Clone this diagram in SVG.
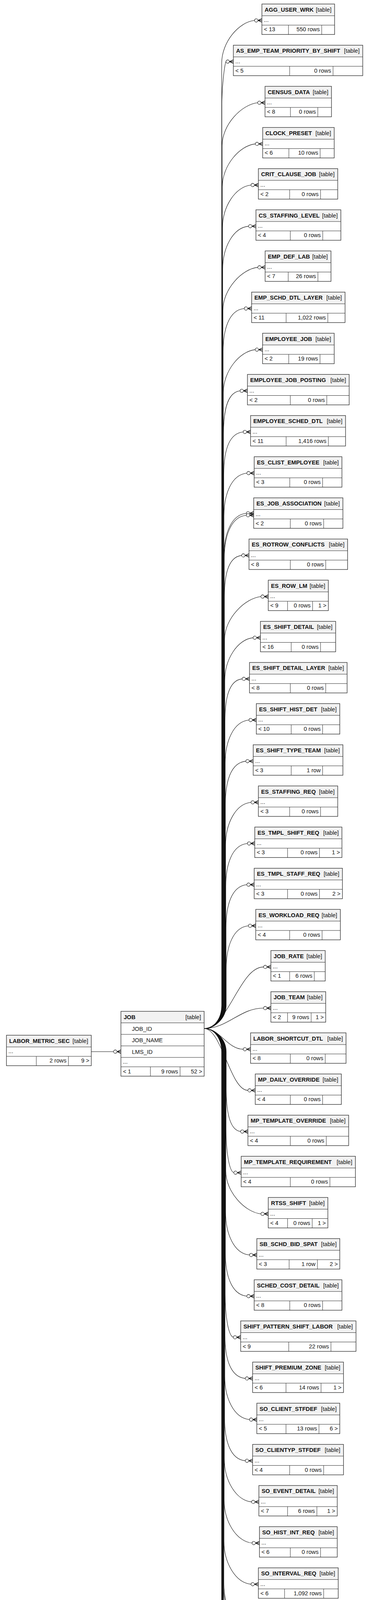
<svg xmlns="http://www.w3.org/2000/svg" width="944" height="6035" viewBox="0 0 944 6035">
<style>
.h{fill:#f2f2f2}
.o{fill:none;stroke:#2a2a2a;stroke-width:1.3}
.ob{fill:none;stroke:#1a1a1a;stroke-width:2.6}
.g{fill:none;stroke:#2a2a2a;stroke-width:1}
.n{font-family:'Liberation Sans',Arial,Helvetica,sans-serif;font-size:14.67px;font-weight:bold;fill:#111}
.t{font-family:'Liberation Sans',Arial,Helvetica,sans-serif;font-size:14.67px;fill:#111}
.e{text-anchor:end}
.edge{fill:none;stroke:#111;stroke-width:1.1}
.dot{fill:#fff;stroke:#111;stroke-width:1.1}
</style>
<defs>
<g id="cf"><path class="edge" d="M-10 0L0-4.5M-10 0H0M-10 0L0 4.5" style="stroke-width:1.5"/><circle class="dot" cx="-14.5" cy="0" r="4.3"/></g>
</defs>
<rect width="944" height="6035" fill="#fff"/>
<g id="connectors">
<path class="edge" d="M522.3 2633C548 2633 567.1 2608 567.1 2573V162.3C567.1 107.3 611.2 56.3 651.2 52.3"/>
<path class="edge" d="M522.3 2633C548 2633 567.6 2608 567.6 2573V267.7C567.6 212.7 575.6 161.7 578.2 157.7"/>
<path class="edge" d="M522.3 2633C548 2633 568.2 2608 568.2 2573V373C568.2 318 619.2 267 659.2 263"/>
<path class="edge" d="M522.3 2633C548 2633 568.7 2608 568.7 2573V478.4C568.7 423.4 613.2 372.4 653.2 368.4"/>
<path class="edge" d="M522.3 2633C548 2633 569.2 2608 569.2 2573V583.7C569.2 528.7 602.2 477.7 642.2 473.7"/>
<path class="edge" d="M522.3 2633C548 2633 569.7 2608 569.7 2573V689.1C569.7 634.1 595.9 583.1 635.9 579.1"/>
<path class="edge" d="M522.3 2633C548 2633 570.3 2608 570.3 2573V794.4C570.3 739.4 619.5 688.4 659.5 684.4"/>
<path class="edge" d="M522.3 2633C548 2633 570.8 2608 570.8 2573V899.8C570.8 844.8 584.9 793.8 624.9 789.8"/>
<path class="edge" d="M522.3 2633C548 2633 571.3 2608 571.3 2573V1005.1C571.3 950.1 612.9 899.1 652.9 895.1"/>
<path class="edge" d="M522.3 2633C548 2633 571.8 2608 571.8 2573V1110.5C571.8 1055.5 579.8 1004.5 614.2 1000.5"/>
<path class="edge" d="M522.3 2633C548 2633 572.4 2608 572.4 2573V1215.8C572.4 1160.8 582.2 1109.8 622.2 1105.8"/>
<path class="edge" d="M522.3 2633C548 2633 572.9 2608 572.9 2573V1321.2C572.9 1266.2 591.5 1215.2 631.5 1211.2"/>
<path class="edge" d="M522.3 2633C548 2633 573 2608 573 2573V1424C573 1369 590.2 1318 630.2 1314"/>
<path class="edge" d="M522.3 2633C548 2633 573.8 2608 573.8 2573V1429C573.8 1374 590.2 1323 630.2 1319"/>
<path class="edge" d="M522.3 2633C548 2633 573.9 2608 573.9 2573V1531.9C573.9 1476.9 581.9 1425.9 618.2 1421.9"/>
<path class="edge" d="M522.3 2633C548 2633 574.5 2608 574.5 2573V1637.2C574.5 1582.2 627.5 1531.2 667.5 1527.2"/>
<path class="edge" d="M522.3 2633C548 2633 575 2608 575 2573V1742.6C575 1687.6 607.5 1636.6 647.5 1632.6"/>
<path class="edge" d="M522.3 2633C548 2633 575.5 2608 575.5 2573V1847.9C575.5 1792.9 583.5 1741.9 619.5 1737.9"/>
<path class="edge" d="M522.3 2633C548 2633 576.1 2608 576.1 2573V1953.3C576.1 1898.3 596.9 1847.3 636.9 1843.3"/>
<path class="edge" d="M522.3 2633C548 2633 576.6 2608 576.6 2573V2058.6C576.6 2003.6 588.9 1952.6 628.9 1948.6"/>
<path class="edge" d="M522.3 2633C548 2633 577.1 2608 577.1 2573V2164C577.1 2109 602.2 2058 642.2 2054"/>
<path class="edge" d="M522.3 2633C548 2633 577.6 2608 577.6 2573V2269.3C577.6 2214.3 592.9 2163.3 632.9 2159.3"/>
<path class="edge" d="M522.3 2633C548 2633 578.2 2608 578.2 2573V2374.7C578.2 2319.7 591.5 2268.7 631.5 2264.7"/>
<path class="edge" d="M522.3 2633C548 2633 578.7 2608 578.7 2573V2480C578.7 2425 595.5 2374 635.5 2370"/>
<path class="edge" d="M522.3 2633C583.1 2633 613.4 2475.4 674.2 2475.4"/>
<path class="edge" d="M522.3 2633C583.1 2633 613.4 2580.7 674.2 2580.7"/>
<path class="edge" d="M522.3 2633C562.3 2633 582.2 2686.1 622.2 2686.1"/>
<path class="edge" d="M522.3 2633C567.1 2633 589.4 2791.4 634.2 2791.4"/>
<path class="edge" d="M522.3 2633C548 2633 578.7 2658 578.7 2693V2786.8C578.7 2841.8 586.7 2892.8 615.5 2896.8"/>
<path class="edge" d="M522.3 2633C548 2633 578.2 2658 578.2 2693V2892.1C578.2 2947.1 586.2 2998.1 598.2 3002.1"/>
<path class="edge" d="M522.3 2633C548 2633 577.6 2658 577.6 2693V2997.5C577.6 3052.5 627.5 3103.5 667.5 3107.5"/>
<path class="edge" d="M522.3 2633C548 2633 577.1 2658 577.1 2693V3102.8C577.1 3157.8 598.2 3208.8 638.2 3212.8"/>
<path class="edge" d="M522.3 2633C548 2633 576.6 2658 576.6 2693V3208.2C576.6 3263.2 591.5 3314.2 631.5 3318.2"/>
<path class="edge" d="M522.3 2633C548 2633 576 2658 576 2693V3313.5C576 3368.5 584 3419.5 596.9 3423.5"/>
<path class="edge" d="M522.3 2633C548 2633 575.5 2658 575.5 2693V3418.9C575.5 3473.9 587.5 3524.9 627.5 3528.9"/>
<path class="edge" d="M522.3 2633C548 2633 575 2658 575 2693V3524.2C575 3579.2 598.2 3630.2 638.2 3634.2"/>
<path class="edge" d="M522.3 2633C548 2633 574.5 2658 574.5 2693V3629.6C574.5 3684.6 587.5 3735.6 627.5 3739.6"/>
<path class="edge" d="M522.3 2633C548 2633 573.9 2658 573.9 2693V3734.9C573.9 3789.9 603.5 3840.9 643.5 3844.9"/>
<path class="edge" d="M522.3 2633C548 2633 573.4 2658 573.4 2693V3840.3C573.4 3895.3 604.9 3946.3 644.9 3950.3"/>
<path class="edge" d="M522.3 2633C548 2633 572.9 2658 572.9 2693V3945.6C572.9 4000.6 602.2 4051.6 642.2 4055.6"/>
<path class="edge" d="M522.3 2633C548 2633 572.6 2658 572.6 2693V4048.5C572.6 4103.5 588.9 4154.5 628.9 4158.5"/>
<path class="edge" d="M522.3 2633C548 2633 571.2 2658 571.2 2693V4053.5C571.2 4108.5 588.9 4159.5 628.9 4163.5"/>
<path class="edge" d="M522.3 2633C548 2633 571.8 2658 571.8 2693V4156.3C571.8 4211.3 606.2 4262.3 646.2 4266.3"/>
<path class="edge" d="M522.3 2633C548 2633 571.3 2658 571.3 2693V4261.7C571.3 4316.7 616.9 4367.7 656.9 4371.7"/>
<path class="edge" d="M522.3 2633C548 2633 570.8 2658 570.8 2693V4367C570.8 4422 603.5 4473 643.5 4477"/>
<path class="edge" d="M522.3 2633C548 2633 570.3 2658 570.3 2693V4472.4C570.3 4527.4 620.9 4578.4 660.9 4582.4"/>
<path class="edge" d="M522.3 2633C548 2633 569.7 2658 569.7 2693V4577.7C569.7 4632.7 619.5 4683.7 659.5 4687.7"/>
<path class="edge" d="M522.3 2633C548 2633 569.2 2658 569.2 2693V4683.1C569.2 4738.1 592.9 4789.1 632.9 4793.1"/>
<path class="edge" d="M522.3 2633C548 2633 568.7 2658 568.7 2693V4788.4C568.7 4843.4 591.5 4894.4 631.5 4898.4"/>
<path class="edge" d="M522.3 2633C548 2633 568.1 2658 568.1 2693V4893.8C568.1 4948.8 616.9 4999.8 656.9 5003.8"/>
<path class="edge" d="M522.3 2633C548 2633 567.6 2658 567.6 2693V4999.1C567.6 5054.1 619.5 5105.1 659.5 5109.1"/>
<path class="edge" d="M522.3 2633C548 2633 566.9 2658 566.9 2693V5137.6C566.9 5192.6 582.9 5243.6 622.9 5247.6"/>
<path class="edge" d="M532.7 5627.5C556 5627.5 576 5602.5 576 5567.5V5387.1C576 5332.1 584 5281.1 622.9 5277.1"/>
<path class="edge" d="M532.7 5627.5C556 5627.5 580 5602.5 580 5567.5V5527.8C580 5472.8 588 5421.8 620.9 5417.8"/>
<path class="edge" d="M532.7 5627.5C576 5627.5 597.6 5523 640.9 5523"/>
<path class="edge" d="M532.7 5627.5L604.9 5628"/>
<path class="edge" d="M532.7 5627.5C574.4 5627.5 595.2 5733.6 636.9 5733.6"/>
<path class="edge" d="M532.7 5627.5C556 5627.5 581 5652.5 581 5687.5V5729C581 5784 643.5 5835 683.5 5839"/>
<path class="edge" d="M532.7 5627.5C556 5627.5 577 5652.5 577 5687.5V5835C577 5890 588.9 5941 628.9 5945"/>
<path class="edge" d="M233.5 2692.2H290.6"/>
<path class="edge" d="M220.4 5686.5H280.4"/>
<use href="#cf" x="670" y="52.3"/><use href="#cf" x="597" y="157.7"/><use href="#cf" x="678" y="263"/><use href="#cf" x="672" y="368.4"/>
<use href="#cf" x="661" y="473.7"/><use href="#cf" x="654.7" y="579.1"/><use href="#cf" x="678.3" y="684.4"/><use href="#cf" x="643.7" y="789.8"/>
<use href="#cf" x="671.7" y="895.1"/><use href="#cf" x="633" y="1000.5"/><use href="#cf" x="641" y="1105.8"/><use href="#cf" x="650.3" y="1211.2"/>
<use href="#cf" x="649" y="1314"/><use href="#cf" x="649" y="1319"/><use href="#cf" x="637" y="1421.9"/><use href="#cf" x="686.3" y="1527.2"/>
<use href="#cf" x="666.3" y="1632.6"/><use href="#cf" x="638.3" y="1737.9"/><use href="#cf" x="655.7" y="1843.3"/><use href="#cf" x="647.7" y="1948.6"/>
<use href="#cf" x="661" y="2054"/><use href="#cf" x="651.7" y="2159.3"/><use href="#cf" x="650.3" y="2264.7"/><use href="#cf" x="654.3" y="2370"/>
<use href="#cf" x="693" y="2475.4"/><use href="#cf" x="693" y="2580.7"/><use href="#cf" x="641" y="2686.1"/><use href="#cf" x="653" y="2791.4"/>
<use href="#cf" x="634.3" y="2896.8"/><use href="#cf" x="617" y="3002.1"/><use href="#cf" x="686.3" y="3107.5"/><use href="#cf" x="657" y="3212.8"/>
<use href="#cf" x="650.3" y="3318.2"/><use href="#cf" x="615.7" y="3423.5"/><use href="#cf" x="646.3" y="3528.9"/><use href="#cf" x="657" y="3634.2"/>
<use href="#cf" x="646.3" y="3739.6"/><use href="#cf" x="662.3" y="3844.9"/><use href="#cf" x="663.7" y="3950.3"/><use href="#cf" x="661" y="4055.6"/>
<use href="#cf" x="647.7" y="4158.5"/><use href="#cf" x="647.7" y="4163.5"/><use href="#cf" x="665" y="4266.3"/><use href="#cf" x="675.7" y="4371.7"/>
<use href="#cf" x="662.3" y="4477"/><use href="#cf" x="679.7" y="4582.4"/><use href="#cf" x="678.3" y="4687.7"/><use href="#cf" x="651.7" y="4793.1"/>
<use href="#cf" x="650.3" y="4898.4"/><use href="#cf" x="675.7" y="5003.8"/><use href="#cf" x="678.3" y="5109.1"/><use href="#cf" x="641.7" y="5247.6"/>
<use href="#cf" x="641.7" y="5277.1"/><use href="#cf" x="639.7" y="5417.8"/><use href="#cf" x="659.7" y="5523"/><use href="#cf" x="623.7" y="5628"/>
<use href="#cf" x="655.7" y="5733.6"/><use href="#cf" x="702.3" y="5839"/><use href="#cf" x="647.7" y="5945"/><use href="#cf" x="309.4" y="2692.2"/>
<use href="#cf" x="299.2" y="5686.5"/>
</g>
<g id="LABOR_METRIC_SEC" transform="translate(16.5,2650.2)"><rect class="h" width="217" height="30"/><path class="g" d="M0 30H217M0 54H217M76.4 54V78M158.5 54V78"/><rect class="o" width="217" height="78"/><text class="n" x="7" y="19.5">LABOR_METRIC_SEC</text><text class="t e" x="209" y="19.5">[table]</text><text class="t" x="5" y="46">...</text><text class="t e" x="153.5" y="70">2 rows</text><text class="t e" x="212" y="70">9 &gt;</text></g>
<g id="JOB" transform="translate(309.4,2589)"><rect class="h" width="212.9" height="29.5"/><path class="g" d="M0 29.5H212.9M0 59H212.9M0 88.5H212.9M0 118H212.9M0 142H212.9M75.4 142V166M151.3 142V166"/><rect class="o" width="212.9" height="166"/><text class="n" x="7" y="19.5">JOB</text><text class="t e" x="204.9" y="19.5">[table]</text><text class="t" x="28" y="49.5">JOB_ID</text><text class="t" x="28" y="79">JOB_NAME</text><text class="t" x="28" y="108.5">LMS_ID</text><text class="t" x="5" y="134">...</text><text class="t" x="5" y="158.5">&lt; 1</text><text class="t e" x="146.3" y="158.5">9 rows</text><text class="t e" x="207.9" y="158.5">52 &gt;</text></g>
<g id="READER_SERVER" transform="translate(29.8,5644.5)"><rect class="h" width="190.6" height="30"/><path class="g" d="M0 30H190.6M0 54H190.6M68.2 54V78M141.2 54V78"/><rect class="o" width="190.6" height="78"/><text class="n" x="7" y="19.5">READER_SERVER</text><text class="t e" x="182.6" y="19.5">[table]</text><text class="t" x="5" y="46">...</text><text class="t" x="5" y="70">&lt; 1</text><text class="t e" x="136.2" y="70">3 rows</text><text class="t e" x="185.6" y="70">1 &gt;</text></g>
<g id="READER_GROUP" transform="translate(299.2,5583.2)"><rect class="h" width="233.5" height="29.5"/><path class="g" d="M0 29.5H233.5M0 59H233.5M0 88.5H233.5M0 118H233.5M0 142H233.5M89.4 142V166M173.5 142V166"/><rect class="o" width="233.5" height="166"/><text class="n" x="7" y="19.5">READER_GROUP</text><text class="t e" x="225.5" y="19.5">[table]</text><text class="t" x="28" y="49.5">RDRGRP_ID</text><text class="t" x="28" y="79">RDRGRP_NAME</text><text class="t" x="28" y="108.5">RDRSVR_ID</text><text class="t" x="5" y="134">...</text><text class="t" x="5" y="158.5">&lt; 1</text><text class="t e" x="168.5" y="158.5">3 rows</text><text class="t e" x="228.5" y="158.5">7 &gt;</text></g>
<g id="AGG_USER_WRK" transform="translate(670,10.3)"><rect class="h" width="186" height="30"/><path class="g" d="M0 30H186M0 54H186M68 54V78M153 54V78"/><rect class="o" width="186" height="78"/><text class="n" x="7" y="19.5">AGG_USER_WRK</text><text class="t e" x="178" y="19.5">[table]</text><text class="t" x="5" y="46">...</text><text class="t" x="5" y="70">&lt; 13</text><text class="t e" x="148" y="70">550 rows</text></g>
<g id="AS_EMP_TEAM_PRIORITY_BY_SHIFT" transform="translate(597,115.7)"><rect class="h" width="331" height="30"/><path class="g" d="M0 30H331M0 54H331M144 54V78M255 54V78"/><rect class="o" width="331" height="78"/><text class="n" x="7" y="19.5">AS_EMP_TEAM_PRIORITY_BY_SHIFT</text><text class="t e" x="323" y="19.5">[table]</text><text class="t" x="5" y="46">...</text><text class="t" x="5" y="70">&lt; 5</text><text class="t e" x="250" y="70">0 rows</text></g>
<g id="CENSUS_DATA" transform="translate(678,221)"><rect class="h" width="170" height="30"/><path class="g" d="M0 30H170M0 54H170M65 54V78M135 54V78"/><rect class="o" width="170" height="78"/><text class="n" x="7" y="19.5">CENSUS_DATA</text><text class="t e" x="162" y="19.5">[table]</text><text class="t" x="5" y="46">...</text><text class="t" x="5" y="70">&lt; 8</text><text class="t e" x="130" y="70">0 rows</text></g>
<g id="CLOCK_PRESET" transform="translate(672,326.4)"><rect class="h" width="183" height="30"/><path class="g" d="M0 30H183M0 54H183M67 54V78M147 54V78"/><rect class="o" width="183" height="78"/><text class="n" x="7" y="19.5">CLOCK_PRESET</text><text class="t e" x="175" y="19.5">[table]</text><text class="t" x="5" y="46">...</text><text class="t" x="5" y="70">&lt; 6</text><text class="t e" x="142" y="70">10 rows</text></g>
<g id="CRIT_CLAUSE_JOB" transform="translate(661,431.7)"><rect class="h" width="203" height="30"/><path class="g" d="M0 30H203M0 54H203M80 54V78M159 54V78"/><rect class="o" width="203" height="78"/><text class="n" x="7" y="19.5">CRIT_CLAUSE_JOB</text><text class="t e" x="195" y="19.5">[table]</text><text class="t" x="5" y="46">...</text><text class="t" x="5" y="70">&lt; 2</text><text class="t e" x="154" y="70">0 rows</text></g>
<g id="CS_STAFFING_LEVEL" transform="translate(654.7,537.1)"><rect class="h" width="217.3" height="30"/><path class="g" d="M0 30H217.3M0 54H217.3M88 54V78M171 54V78"/><rect class="o" width="217.3" height="78"/><text class="n" x="7" y="19.5">CS_STAFFING_LEVEL</text><text class="t e" x="209.3" y="19.5">[table]</text><text class="t" x="5" y="46">...</text><text class="t" x="5" y="70">&lt; 4</text><text class="t e" x="166" y="70">0 rows</text></g>
<g id="EMP_DEF_LAB" transform="translate(678.3,642.4)"><rect class="h" width="168.4" height="30"/><path class="g" d="M0 30H168.4M0 54H168.4M59 54V78M135 54V78"/><rect class="o" width="168.4" height="78"/><text class="n" x="7" y="19.5">EMP_DEF_LAB</text><text class="t e" x="160.4" y="19.5">[table]</text><text class="t" x="5" y="46">...</text><text class="t" x="5" y="70">&lt; 7</text><text class="t e" x="130" y="70">26 rows</text></g>
<g id="EMP_SCHD_DTL_LAYER" transform="translate(643.7,747.8)"><rect class="h" width="239" height="30"/><path class="g" d="M0 30H239M0 54H239M88.3 54V78M195 54V78"/><rect class="o" width="239" height="78"/><text class="n" x="7" y="19.5">EMP_SCHD_DTL_LAYER</text><text class="t e" x="231" y="19.5">[table]</text><text class="t" x="5" y="46">...</text><text class="t" x="5" y="70">&lt; 11</text><text class="t e" x="190" y="70">1,022 rows</text></g>
<g id="EMPLOYEE_JOB" transform="translate(671.7,853.1)"><rect class="h" width="183.3" height="30"/><path class="g" d="M0 30H183.3M0 54H183.3M67 54V78M147 54V78"/><rect class="o" width="183.3" height="78"/><text class="n" x="7" y="19.5">EMPLOYEE_JOB</text><text class="t e" x="175.3" y="19.5">[table]</text><text class="t" x="5" y="46">...</text><text class="t" x="5" y="70">&lt; 2</text><text class="t e" x="142" y="70">19 rows</text></g>
<g id="EMPLOYEE_JOB_POSTING" transform="translate(633,958.5)"><rect class="h" width="260.3" height="30"/><path class="g" d="M0 30H260.3M0 54H260.3M109.7 54V78M203 54V78"/><rect class="o" width="260.3" height="78"/><text class="n" x="7" y="19.5">EMPLOYEE_JOB_POSTING</text><text class="t e" x="252.3" y="19.5">[table]</text><text class="t" x="5" y="46">...</text><text class="t" x="5" y="70">&lt; 2</text><text class="t e" x="198" y="70">0 rows</text></g>
<g id="EMPLOYEE_SCHED_DTL" transform="translate(641,1063.8)"><rect class="h" width="243" height="30"/><path class="g" d="M0 30H243M0 54H243M91 54V78M199 54V78"/><rect class="o" width="243" height="78"/><text class="n" x="7" y="19.5">EMPLOYEE_SCHED_DTL</text><text class="t e" x="235" y="19.5">[table]</text><text class="t" x="5" y="46">...</text><text class="t" x="5" y="70">&lt; 11</text><text class="t e" x="194" y="70">1,416 rows</text></g>
<g id="ES_CLIST_EMPLOYEE" transform="translate(650.3,1169.2)"><rect class="h" width="224.4" height="30"/><path class="g" d="M0 30H224.4M0 54H224.4M91 54V78M175 54V78"/><rect class="o" width="224.4" height="78"/><text class="n" x="7" y="19.5">ES_CLIST_EMPLOYEE</text><text class="t e" x="216.4" y="19.5">[table]</text><text class="t" x="5" y="46">...</text><text class="t" x="5" y="70">&lt; 3</text><text class="t e" x="170" y="70">0 rows</text></g>
<g id="ES_JOB_ASSOCIATION" transform="translate(649,1274.5)"><rect class="h" width="228.3" height="30"/><path class="g" d="M0 30H228.3M0 54H228.3M93.7 54V78M179 54V78"/><rect class="o" width="228.3" height="78"/><text class="n" x="7" y="19.5">ES_JOB_ASSOCIATION</text><text class="t e" x="220.3" y="19.5">[table]</text><text class="t" x="5" y="46">...</text><text class="t" x="5" y="70">&lt; 2</text><text class="t e" x="174" y="70">0 rows</text></g>
<g id="ES_ROTROW_CONFLICTS" transform="translate(637,1379.9)"><rect class="h" width="252.3" height="30"/><path class="g" d="M0 30H252.3M0 54H252.3M105.7 54V78M196.3 54V78"/><rect class="o" width="252.3" height="78"/><text class="n" x="7" y="19.5">ES_ROTROW_CONFLICTS</text><text class="t e" x="244.3" y="19.5">[table]</text><text class="t" x="5" y="46">...</text><text class="t" x="5" y="70">&lt; 8</text><text class="t e" x="191.3" y="70">0 rows</text></g>
<g id="ES_ROW_LM" transform="translate(686.3,1485.2)"><rect class="h" width="153.7" height="30"/><path class="g" d="M0 30H153.7M0 54H153.7M49.4 54V78M113.4 54V78"/><rect class="o" width="153.7" height="78"/><text class="n" x="7" y="19.5">ES_ROW_LM</text><text class="t e" x="145.7" y="19.5">[table]</text><text class="t" x="5" y="46">...</text><text class="t" x="5" y="70">&lt; 9</text><text class="t e" x="108.4" y="70">0 rows</text><text class="t e" x="148.7" y="70">1 &gt;</text></g>
<g id="ES_SHIFT_DETAIL" transform="translate(666.3,1590.6)"><rect class="h" width="192.4" height="30"/><path class="g" d="M0 30H192.4M0 54H192.4M78.7 54V78M153.7 54V78"/><rect class="o" width="192.4" height="78"/><text class="n" x="7" y="19.5">ES_SHIFT_DETAIL</text><text class="t e" x="184.4" y="19.5">[table]</text><text class="t" x="5" y="46">...</text><text class="t" x="5" y="70">&lt; 16</text><text class="t e" x="148.7" y="70">0 rows</text></g>
<g id="ES_SHIFT_DETAIL_LAYER" transform="translate(638.3,1695.9)"><rect class="h" width="249.7" height="30"/><path class="g" d="M0 30H249.7M0 54H249.7M104.4 54V78M195 54V78"/><rect class="o" width="249.7" height="78"/><text class="n" x="7" y="19.5">ES_SHIFT_DETAIL_LAYER</text><text class="t e" x="241.7" y="19.5">[table]</text><text class="t" x="5" y="46">...</text><text class="t" x="5" y="70">&lt; 8</text><text class="t e" x="190" y="70">0 rows</text></g>
<g id="ES_SHIFT_HIST_DET" transform="translate(655.7,1801.3)"><rect class="h" width="213.6" height="30"/><path class="g" d="M0 30H213.6M0 54H213.6M89.3 54V78M169.6 54V78"/><rect class="o" width="213.6" height="78"/><text class="n" x="7" y="19.5">ES_SHIFT_HIST_DET</text><text class="t e" x="205.6" y="19.5">[table]</text><text class="t" x="5" y="46">...</text><text class="t" x="5" y="70">&lt; 10</text><text class="t e" x="164.6" y="70">0 rows</text></g>
<g id="ES_SHIFT_TYPE_TEAM" transform="translate(647.7,1906.6)"><rect class="h" width="229.6" height="30"/><path class="g" d="M0 30H229.6M0 54H229.6M97.3 54V78M177.6 54V78"/><rect class="o" width="229.6" height="78"/><text class="n" x="7" y="19.5">ES_SHIFT_TYPE_TEAM</text><text class="t e" x="221.6" y="19.5">[table]</text><text class="t" x="5" y="46">...</text><text class="t" x="5" y="70">&lt; 3</text><text class="t e" x="172.6" y="70">1 row</text></g>
<g id="ES_STAFFING_REQ" transform="translate(661,2012)"><rect class="h" width="203" height="30"/><path class="g" d="M0 30H203M0 54H203M80 54V78M159 54V78"/><rect class="o" width="203" height="78"/><text class="n" x="7" y="19.5">ES_STAFFING_REQ</text><text class="t e" x="195" y="19.5">[table]</text><text class="t" x="5" y="46">...</text><text class="t" x="5" y="70">&lt; 3</text><text class="t e" x="154" y="70">0 rows</text></g>
<g id="ES_TMPL_SHIFT_REQ" transform="translate(651.7,2117.3)"><rect class="h" width="223" height="30"/><path class="g" d="M0 30H223M0 54H223M84 54V78M165.6 54V78"/><rect class="o" width="223" height="78"/><text class="n" x="7" y="19.5">ES_TMPL_SHIFT_REQ</text><text class="t e" x="215" y="19.5">[table]</text><text class="t" x="5" y="46">...</text><text class="t" x="5" y="70">&lt; 3</text><text class="t e" x="160.6" y="70">0 rows</text><text class="t e" x="218" y="70">1 &gt;</text></g>
<g id="ES_TMPL_STAFF_REQ" transform="translate(650.3,2222.7)"><rect class="h" width="225.7" height="30"/><path class="g" d="M0 30H225.7M0 54H225.7M85.4 54V78M167 54V78"/><rect class="o" width="225.7" height="78"/><text class="n" x="7" y="19.5">ES_TMPL_STAFF_REQ</text><text class="t e" x="217.7" y="19.5">[table]</text><text class="t" x="5" y="46">...</text><text class="t" x="5" y="70">&lt; 3</text><text class="t e" x="162" y="70">0 rows</text><text class="t e" x="220.7" y="70">2 &gt;</text></g>
<g id="ES_WORKLOAD_REQ" transform="translate(654.3,2328)"><rect class="h" width="216.4" height="30"/><path class="g" d="M0 30H216.4M0 54H216.4M86.7 54V78M169.7 54V78"/><rect class="o" width="216.4" height="78"/><text class="n" x="7" y="19.5">ES_WORKLOAD_REQ</text><text class="t e" x="208.4" y="19.5">[table]</text><text class="t" x="5" y="46">...</text><text class="t" x="5" y="70">&lt; 4</text><text class="t e" x="164.7" y="70">0 rows</text></g>
<g id="JOB_RATE" transform="translate(693,2433.4)"><rect class="h" width="139" height="30"/><path class="g" d="M0 30H139M0 54H139M48 54V78M111 54V78"/><rect class="o" width="139" height="78"/><text class="n" x="7" y="19.5">JOB_RATE</text><text class="t e" x="131" y="19.5">[table]</text><text class="t" x="5" y="46">...</text><text class="t" x="5" y="70">&lt; 1</text><text class="t e" x="106" y="70">6 rows</text></g>
<g id="JOB_TEAM" transform="translate(693,2538.7)"><rect class="h" width="140.3" height="30"/><path class="g" d="M0 30H140.3M0 54H140.3M42.7 54V78M103 54V78"/><rect class="o" width="140.3" height="78"/><text class="n" x="7" y="19.5">JOB_TEAM</text><text class="t e" x="132.3" y="19.5">[table]</text><text class="t" x="5" y="46">...</text><text class="t" x="5" y="70">&lt; 2</text><text class="t e" x="98" y="70">9 rows</text><text class="t e" x="135.3" y="70">1 &gt;</text></g>
<g id="LABOR_SHORTCUT_DTL" transform="translate(641,2644.1)"><rect class="h" width="244.3" height="30"/><path class="g" d="M0 30H244.3M0 54H244.3M101.7 54V78M191 54V78"/><rect class="o" width="244.3" height="78"/><text class="n" x="7" y="19.5">LABOR_SHORTCUT_DTL</text><text class="t e" x="236.3" y="19.5">[table]</text><text class="t" x="5" y="46">...</text><text class="t" x="5" y="70">&lt; 8</text><text class="t e" x="186" y="70">0 rows</text></g>
<g id="MP_DAILY_OVERRIDE" transform="translate(653,2749.4)"><rect class="h" width="220.3" height="30"/><path class="g" d="M0 30H220.3M0 54H220.3M89.7 54V78M172.3 54V78"/><rect class="o" width="220.3" height="78"/><text class="n" x="7" y="19.5">MP_DAILY_OVERRIDE</text><text class="t e" x="212.3" y="19.5">[table]</text><text class="t" x="5" y="46">...</text><text class="t" x="5" y="70">&lt; 4</text><text class="t e" x="167.3" y="70">0 rows</text></g>
<g id="MP_TEMPLATE_OVERRIDE" transform="translate(634.3,2854.8)"><rect class="h" width="257.7" height="30"/><path class="g" d="M0 30H257.7M0 54H257.7M108.4 54V78M200.4 54V78"/><rect class="o" width="257.7" height="78"/><text class="n" x="7" y="19.5">MP_TEMPLATE_OVERRIDE</text><text class="t e" x="249.7" y="19.5">[table]</text><text class="t" x="5" y="46">...</text><text class="t" x="5" y="70">&lt; 4</text><text class="t e" x="195.4" y="70">0 rows</text></g>
<g id="MP_TEMPLATE_REQUIREMENT" transform="translate(617,2960.1)"><rect class="h" width="292.3" height="30"/><path class="g" d="M0 30H292.3M0 54H292.3M125.7 54V78M227 54V78"/><rect class="o" width="292.3" height="78"/><text class="n" x="7" y="19.5">MP_TEMPLATE_REQUIREMENT</text><text class="t e" x="284.3" y="19.5">[table]</text><text class="t" x="5" y="46">...</text><text class="t" x="5" y="70">&lt; 4</text><text class="t e" x="222" y="70">0 rows</text></g>
<g id="RTSS_SHIFT" transform="translate(686.3,3065.5)"><rect class="h" width="152.4" height="30"/><path class="g" d="M0 30H152.4M0 54H152.4M49.4 54V78M112.4 54V78"/><rect class="o" width="152.4" height="78"/><text class="n" x="7" y="19.5">RTSS_SHIFT</text><text class="t e" x="144.4" y="19.5">[table]</text><text class="t" x="5" y="46">...</text><text class="t" x="5" y="70">&lt; 4</text><text class="t e" x="107.4" y="70">0 rows</text><text class="t e" x="147.4" y="70">1 &gt;</text></g>
<g id="SB_SCHD_BID_SPAT" transform="translate(657,3170.8)"><rect class="h" width="212.3" height="30"/><path class="g" d="M0 30H212.3M0 54H212.3M82.7 54V78M155 54V78"/><rect class="o" width="212.3" height="78"/><text class="n" x="7" y="19.5">SB_SCHD_BID_SPAT</text><text class="t e" x="204.3" y="19.5">[table]</text><text class="t" x="5" y="46">...</text><text class="t" x="5" y="70">&lt; 3</text><text class="t e" x="150" y="70">1 row</text><text class="t e" x="207.3" y="70">2 &gt;</text></g>
<g id="SCHED_COST_DETAIL" transform="translate(650.3,3276.2)"><rect class="h" width="224.4" height="30"/><path class="g" d="M0 30H224.4M0 54H224.4M91 54V78M175 54V78"/><rect class="o" width="224.4" height="78"/><text class="n" x="7" y="19.5">SCHED_COST_DETAIL</text><text class="t e" x="216.4" y="19.5">[table]</text><text class="t" x="5" y="46">...</text><text class="t" x="5" y="70">&lt; 8</text><text class="t e" x="170" y="70">0 rows</text></g>
<g id="SHIFT_PATTERN_SHIFT_LABOR" transform="translate(615.7,3381.5)"><rect class="h" width="295" height="30"/><path class="g" d="M0 30H295M0 54H295M123 54V78M231 54V78"/><rect class="o" width="295" height="78"/><text class="n" x="7" y="19.5">SHIFT_PATTERN_SHIFT_LABOR</text><text class="t e" x="287" y="19.5">[table]</text><text class="t" x="5" y="46">...</text><text class="t" x="5" y="70">&lt; 9</text><text class="t e" x="226" y="70">22 rows</text></g>
<g id="SHIFT_PREMIUM_ZONE" transform="translate(646.3,3486.9)"><rect class="h" width="232.4" height="30"/><path class="g" d="M0 30H232.4M0 54H232.4M85.4 54V78M175 54V78"/><rect class="o" width="232.4" height="78"/><text class="n" x="7" y="19.5">SHIFT_PREMIUM_ZONE</text><text class="t e" x="224.4" y="19.5">[table]</text><text class="t" x="5" y="46">...</text><text class="t" x="5" y="70">&lt; 6</text><text class="t e" x="170" y="70">14 rows</text><text class="t e" x="227.4" y="70">1 &gt;</text></g>
<g id="SO_CLIENT_STFDEF" transform="translate(657,3592.2)"><rect class="h" width="212.3" height="30"/><path class="g" d="M0 30H212.3M0 54H212.3M74.7 54V78M159 54V78"/><rect class="o" width="212.3" height="78"/><text class="n" x="7" y="19.5">SO_CLIENT_STFDEF</text><text class="t e" x="204.3" y="19.5">[table]</text><text class="t" x="5" y="46">...</text><text class="t" x="5" y="70">&lt; 5</text><text class="t e" x="154" y="70">13 rows</text><text class="t e" x="207.3" y="70">6 &gt;</text></g>
<g id="SO_CLIENTYP_STFDEF" transform="translate(646.3,3697.6)"><rect class="h" width="232.4" height="30"/><path class="g" d="M0 30H232.4M0 54H232.4M94.7 54V78M181.7 54V78"/><rect class="o" width="232.4" height="78"/><text class="n" x="7" y="19.5">SO_CLIENTYP_STFDEF</text><text class="t e" x="224.4" y="19.5">[table]</text><text class="t" x="5" y="46">...</text><text class="t" x="5" y="70">&lt; 4</text><text class="t e" x="176.7" y="70">0 rows</text></g>
<g id="SO_EVENT_DETAIL" transform="translate(662.3,3802.9)"><rect class="h" width="200.4" height="30"/><path class="g" d="M0 30H200.4M0 54H200.4M73.4 54V78M148.4 54V78"/><rect class="o" width="200.4" height="78"/><text class="n" x="7" y="19.5">SO_EVENT_DETAIL</text><text class="t e" x="192.4" y="19.5">[table]</text><text class="t" x="5" y="46">...</text><text class="t" x="5" y="70">&lt; 7</text><text class="t e" x="143.4" y="70">6 rows</text><text class="t e" x="195.4" y="70">1 &gt;</text></g>
<g id="SO_HIST_INT_REQ" transform="translate(663.7,3908.3)"><rect class="h" width="199" height="30"/><path class="g" d="M0 30H199M0 54H199M79 54V78M156.3 54V78"/><rect class="o" width="199" height="78"/><text class="n" x="7" y="19.5">SO_HIST_INT_REQ</text><text class="t e" x="191" y="19.5">[table]</text><text class="t" x="5" y="46">...</text><text class="t" x="5" y="70">&lt; 6</text><text class="t e" x="151.3" y="70">0 rows</text></g>
<g id="SO_INTERVAL_REQ" transform="translate(661,4013.6)"><rect class="h" width="204.3" height="30"/><path class="g" d="M0 30H204.3M0 54H204.3M67 54V78M167 54V78"/><rect class="o" width="204.3" height="78"/><text class="n" x="7" y="19.5">SO_INTERVAL_REQ</text><text class="t e" x="196.3" y="19.5">[table]</text><text class="t" x="5" y="46">...</text><text class="t" x="5" y="70">&lt; 6</text><text class="t e" x="162" y="70">1,092 rows</text></g>
<g id="SO_POSN_SET_ELMTS" transform="translate(647.7,4119)"><rect class="h" width="231" height="30"/><path class="g" d="M0 30H231M0 54H231M95 54V78M180.3 54V78"/><rect class="o" width="231" height="78"/><text class="n" x="7" y="19.5">SO_POSN_SET_ELMTS</text><text class="t e" x="223" y="19.5">[table]</text><text class="t" x="5" y="46">...</text><text class="t" x="5" y="70">&lt; 2</text><text class="t e" x="175.3" y="70">0 rows</text></g>
<g id="SO_SHIFT_DETAIL" transform="translate(665,4224.3)"><rect class="h" width="195" height="30"/><path class="g" d="M0 30H195M0 54H195M66.7 54V78M147 54V78"/><rect class="o" width="195" height="78"/><text class="n" x="7" y="19.5">SO_SHIFT_DETAIL</text><text class="t e" x="187" y="19.5">[table]</text><text class="t" x="5" y="46">...</text><text class="t" x="5" y="70">&lt; 7</text><text class="t e" x="142" y="70">95 rows</text><text class="t e" x="190" y="70">1 &gt;</text></g>
<g id="SO_SHIFT_REQ" transform="translate(675.7,4329.7)"><rect class="h" width="175" height="30"/><path class="g" d="M0 30H175M0 54H175M67 54V78M139 54V78"/><rect class="o" width="175" height="78"/><text class="n" x="7" y="19.5">SO_SHIFT_REQ</text><text class="t e" x="167" y="19.5">[table]</text><text class="t" x="5" y="46">...</text><text class="t" x="5" y="70">&lt; 5</text><text class="t e" x="134" y="70">0 rows</text></g>
<g id="SR_SHIFT_OFFSET" transform="translate(662.3,4435)"><rect class="h" width="200.4" height="30"/><path class="g" d="M0 30H200.4M0 54H200.4M78.7 54V78M157.7 54V78"/><rect class="o" width="200.4" height="78"/><text class="n" x="7" y="19.5">SR_SHIFT_OFFSET</text><text class="t e" x="192.4" y="19.5">[table]</text><text class="t" x="5" y="46">...</text><text class="t" x="5" y="70">&lt; 3</text><text class="t e" x="152.7" y="70">0 rows</text></g>
<g id="SR_SUMMARY" transform="translate(679.7,4540.4)"><rect class="h" width="165.6" height="30"/><path class="g" d="M0 30H165.6M0 54H165.6M56 54V78M123 54V78"/><rect class="o" width="165.6" height="78"/><text class="n" x="7" y="19.5">SR_SUMMARY</text><text class="t e" x="157.6" y="19.5">[table]</text><text class="t" x="5" y="46">...</text><text class="t" x="5" y="70">&lt; 7</text><text class="t e" x="118" y="70">0 rows</text><text class="t e" x="160.6" y="70">2 &gt;</text></g>
<g id="ST_JOB_SKILL" transform="translate(678.3,4645.7)"><rect class="h" width="169.7" height="30"/><path class="g" d="M0 30H169.7M0 54H169.7M64.4 54V78M135 54V78"/><rect class="o" width="169.7" height="78"/><text class="n" x="7" y="19.5">ST_JOB_SKILL</text><text class="t e" x="161.7" y="19.5">[table]</text><text class="t" x="5" y="46">...</text><text class="t" x="5" y="70">&lt; 2</text><text class="t e" x="130" y="70">0 rows</text></g>
<g id="TARGET_DETAIL_JOB" transform="translate(651.7,4751.1)"><rect class="h" width="221.6" height="30"/><path class="g" d="M0 30H221.6M0 54H221.6M89.3 54V78M173.6 54V78"/><rect class="o" width="221.6" height="78"/><text class="n" x="7" y="19.5">TARGET_DETAIL_JOB</text><text class="t e" x="213.6" y="19.5">[table]</text><text class="t" x="5" y="46">...</text><text class="t" x="5" y="70">&lt; 2</text><text class="t e" x="168.6" y="70">0 rows</text></g>
<g id="TM_ACTIONITEM_JOB" transform="translate(650.3,4856.4)"><rect class="h" width="224.4" height="30"/><path class="g" d="M0 30H224.4M0 54H224.4M90.7 54V78M175 54V78"/><rect class="o" width="224.4" height="78"/><text class="n" x="7" y="19.5">TM_ACTIONITEM_JOB</text><text class="t e" x="216.4" y="19.5">[table]</text><text class="t" x="5" y="46">...</text><text class="t" x="5" y="70">&lt; 2</text><text class="t e" x="170" y="70">0 rows</text></g>
<g id="UNSTFD_SHIFT" transform="translate(675.7,4961.8)"><rect class="h" width="173.6" height="30"/><path class="g" d="M0 30H173.6M0 54H173.6M65.3 54V78M137.6 54V78"/><rect class="o" width="173.6" height="78"/><text class="n" x="7" y="19.5">UNSTFD_SHIFT</text><text class="t e" x="165.6" y="19.5">[table]</text><text class="t" x="5" y="46">...</text><text class="t" x="5" y="70">&lt; 9</text><text class="t e" x="132.6" y="70">0 rows</text></g>
<g id="WORK_DETAIL" transform="translate(678.3,5067.1)"><rect class="h" width="168.4" height="30"/><path class="g" d="M0 30H168.4M0 54H168.4M49.4 54V78M140.4 54V78"/><rect class="o" width="168.4" height="78"/><text class="n" x="7" y="19.5">WORK_DETAIL</text><text class="t e" x="160.4" y="19.5">[table]</text><text class="t" x="5" y="46">...</text><text class="t" x="5" y="70">&lt; 8</text><text class="t e" x="135.4" y="70">1,735 rows</text></g>
<g id="JOB_RDR_GRP" transform="translate(641.7,5173)"><rect class="h" width="241.6" height="30.6"/><path class="g" d="M0 30.6H241.6M0 60H241.6M0 89.4H241.6M0 118.8H241.6M0 148.2H241.6M157 30.6V173.4M71.6 148.2V173.4"/><rect class="ob" x="1.3" y="1.3" width="239" height="170.8"/><text class="n" x="9.5" y="20">JOB_RDR_GRP</text><text class="t e" x="231.6" y="20">[table]</text><text class="t" x="29" y="50.3">JOBRDRGRP_ID</text><text class="t" x="161.5" y="50.3">number[38]</text><text class="t" x="29" y="79.7">JOB_ID</text><text class="t" x="161.5" y="79.7">number[38]</text><text class="t" x="29" y="109.1">RDRGRP_ID</text><text class="t" x="161.5" y="109.1">number[38]</text><text class="t" x="29" y="138.5">CLIENT_ID</text><text class="t" x="161.5" y="138.5">number[38]</text><text class="t" x="7" y="165.2">&lt; 2</text><text class="t e" x="152" y="165.2">1 row</text><text class="t e" x="233.6" y="165.2">0 &gt;</text></g>
<g id="DEPARTMENT_RDR_GRP" transform="translate(639.7,5375.8)"><rect class="h" width="247" height="30"/><path class="g" d="M0 30H247M0 54H247M103 54V78M192.3 54V78"/><rect class="o" width="247" height="78"/><text class="n" x="7" y="19.5">DEPARTMENT_RDR_GRP</text><text class="t e" x="239" y="19.5">[table]</text><text class="t" x="5" y="46">...</text><text class="t" x="5" y="70">&lt; 2</text><text class="t e" x="187.3" y="70">0 rows</text></g>
<g id="DOCKET_RDR_GRP" transform="translate(659.7,5481)"><rect class="h" width="207" height="30"/><path class="g" d="M0 30H207M0 54H207M83 54V78M163 54V78"/><rect class="o" width="207" height="78"/><text class="n" x="7" y="19.5">DOCKET_RDR_GRP</text><text class="t e" x="199" y="19.5">[table]</text><text class="t" x="5" y="46">...</text><text class="t" x="5" y="70">&lt; 2</text><text class="t e" x="158" y="70">0 rows</text></g>
<g id="EMPLOYEE_READER_GROUP" transform="translate(623.7,5586)"><rect class="h" width="277.6" height="30"/><path class="g" d="M0 30H277.6M0 54H277.6M117.3 54V78M215 54V78"/><rect class="o" width="277.6" height="78"/><text class="n" x="7" y="19.5">EMPLOYEE_READER_GROUP</text><text class="t e" x="269.6" y="19.5">[table]</text><text class="t" x="5" y="46">...</text><text class="t" x="5" y="70">&lt; 2</text><text class="t e" x="210" y="70">5 rows</text></g>
<g id="PROJECT_RDR_GRP" transform="translate(655.7,5691.6)"><rect class="h" width="213.6" height="30"/><path class="g" d="M0 30H213.6M0 54H213.6M85.3 54V78M167 54V78"/><rect class="o" width="213.6" height="78"/><text class="n" x="7" y="19.5">PROJECT_RDR_GRP</text><text class="t e" x="205.6" y="19.5">[table]</text><text class="t" x="5" y="46">...</text><text class="t" x="5" y="70">&lt; 2</text><text class="t e" x="162" y="70">0 rows</text></g>
<g id="READER" transform="translate(702.3,5797)"><rect class="h" width="121.7" height="30"/><path class="g" d="M0 30H121.7M0 54H121.7M33.4 54V78M89.4 54V78"/><rect class="o" width="121.7" height="78"/><text class="n" x="7" y="19.5">READER</text><text class="t e" x="113.7" y="19.5">[table]</text><text class="t" x="5" y="46">...</text><text class="t" x="5" y="70">&lt; 4</text><text class="t e" x="84.4" y="70">6 rows</text><text class="t e" x="116.7" y="70">1 &gt;</text></g>
<g id="TIME_CODE_RDR_GRP" transform="translate(647.7,5903)"><rect class="h" width="231" height="30"/><path class="g" d="M0 30H231M0 54H231M95 54V78M180.3 54V78"/><rect class="o" width="231" height="78"/><text class="n" x="7" y="19.5">TIME_CODE_RDR_GRP</text><text class="t e" x="223" y="19.5">[table]</text><text class="t" x="5" y="46">...</text><text class="t" x="5" y="70">&lt; 2</text><text class="t e" x="175.3" y="70">0 rows</text></g>
<text class="t" x="16.3" y="6021" style="fill:#222">Generated by SchemaSpy</text>
</svg>
